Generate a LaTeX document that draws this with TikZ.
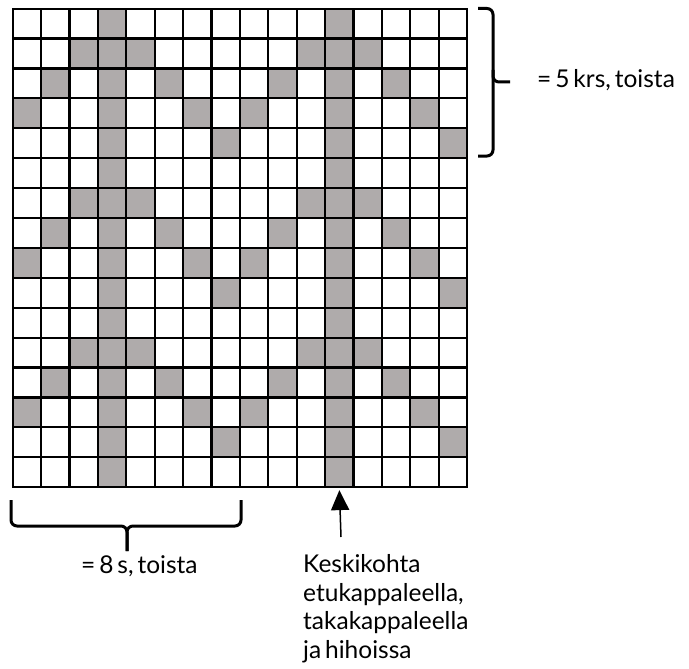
\documentclass[tikz,border=0pt]{standalone}
\usepackage{fontspec}
\setmainfont{Lato}
\usetikzlibrary{arrows.meta}

\definecolor{cellgray}{RGB}{175,171,171}
\newcommand{\labelfont}{%
    \fontsize{24.5pt}{28.4pt}\selectfont
    \setlength{\spaceskip}{0.16em plus 0.05em}}
\tikzset{
    gridline/.style={line width=2.2pt, line cap=rect},
    bracket/.style={line width=3pt, rounded corners=6pt},
    label/.style={inner sep=0pt, font=\labelfont}
}

\begin{document}
\begin{tikzpicture}[x=1pt, y=-1pt]
    \useasboundingbox (0, 0) rectangle (689, 669);

    % the chart, 16 x 16 cells
    \begin{scope}[shift={(12.7, 8.7)}, x=28.4pt, y=-29.9pt]
	\foreach \r in {0,...,15} {
	    \foreach \c in {0,...,15} {
		\pgfmathtruncatemacro{\p}{mod(\r, 5)}
		\pgfmathtruncatemacro{\q}{abs(mod(\c, 8) - 3)}
		\pgfmathtruncatemacro{\hit}{(\q == 0) || (\q == \p)}
		\ifnum\hit=1
		    \fill[cellgray] (\c, \r) rectangle (\c + 1, \r + 1);
		\fi
	    }
	}
	\foreach \i in {0,...,16} {
	    \draw[gridline] (\i, 0) -- (\i, 16);
	    \draw[gridline] (0, \i) -- (16, \i);
	}
	\coordinate (mid) at (11.5, 16);
    \end{scope}

    % repeat of 5 rows
    \draw[bracket] (478, 8.5) -- (493, 8.5) -- (493, 156) -- (478, 156);
    \draw[bracket] (493, 70) |- (510, 82);
    \node[label, anchor=base west] (rows) at (537, 88) {= 5 krs, toista};

    % repeat of 8 stitches
    \draw[bracket] (11, 500) |- (127, 526) -- (127, 551);
    \draw[bracket] (241, 500) |- (127, 526) -- (127, 551);
    \node[label, anchor=base west] (sts) at (81, 573) {= 8 s, toista};

    % centre stitch
    \coordinate (foot) at (341, 537);
    \draw[line width=1.5pt, -{Triangle[length=20pt, width=18pt]}, shorten >=3pt]
	(foot) -- (mid);
    \node[label, anchor=base west, align=left] (centre) at (303, 658)
	{Keskikohta\\etukappaleella,\\takakappaleella\\ja hihoissa};
\end{tikzpicture}
\end{document}
